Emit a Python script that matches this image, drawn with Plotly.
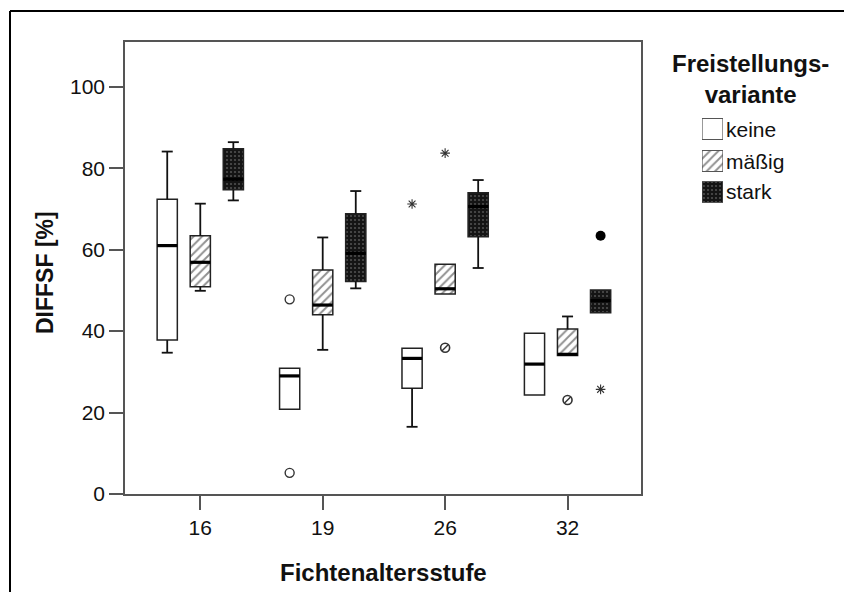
import plotly.graph_objects as go

# ---- data -------------------------------------------------------------
ages = ["16", "19", "26", "32"]
variants = ["keine", "mäßig", "stark"]

keine_lo = [34.7, 20.8, 16.5, 24.3]
keine_q1 = [37.8, 20.8, 26.0, 24.3]
keine_med = [61.0, 29.0, 33.3, 31.9]
keine_q3 = [72.4, 30.9, 35.8, 39.5]
keine_hi = [84.1, 30.9, 35.8, 39.5]

maessig_lo = [49.9, 35.4, 49.1, 34.0]
maessig_q1 = [50.9, 44.0, 49.1, 34.0]
maessig_med = [56.9, 46.4, 50.4, 34.3]
maessig_q3 = [63.4, 55.0, 56.4, 40.5]
maessig_hi = [71.3, 63.0, 56.4, 43.6]

stark_lo = [72.1, 50.5, 55.5, 44.5]
stark_q1 = [74.7, 52.2, 63.2, 44.5]
stark_med = [77.3, 59.1, 70.6, 47.5]
stark_q3 = [84.8, 68.8, 74.0, 50.1]
stark_hi = [86.4, 74.4, 77.1, 50.1]

# outliers (o) and extreme values (*)
keine_circle_age = ["19", "19"]
keine_circle_val = [47.8, 5.2]
keine_star_age = ["26"]
keine_star_val = [71.2]
maessig_circle_age = ["26", "32"]
maessig_circle_val = [35.9, 23.1]
maessig_star_age = ["26"]
maessig_star_val = [83.7]
stark_circle_age = ["32"]
stark_circle_val = [63.4]
stark_star_age = ["32"]
stark_star_val = [25.7]

# ---- layout constants -------------------------------------------------
W, H = 844, 592
ML, MR, MT, MB = 125, 0, 42, 98
PLOT_W = 516                       # width of the main axes in px
PW = W - ML - MR                   # width of the drawing area
PH = H - MT - MB                   # height of the drawing area
FONT = "Arial, Liberation Sans, sans-serif"
INK = "#111111"
FRAME = "#555555"

OFFSET = {"keine": -0.27, "mäßig": 0.0, "stark": 0.27}
BOX_W = 0.165
CAP = 0.045

PATTERNS = {
    "keine": dict(color="white", pattern=dict(shape="")),
    "mäßig": dict(color="white",
                  pattern=dict(shape="/", fgcolor="#222222", bgcolor="white",
                               size=6, solidity=0.32)),
    "stark": dict(color="#111111",
                  pattern=dict(shape=".", fgcolor="#8a8a8a", bgcolor="#141414",
                               size=4, solidity=0.22)),
}

stats = {
    "keine": (keine_lo, keine_q1, keine_med, keine_q3, keine_hi),
    "mäßig": (maessig_lo, maessig_q1, maessig_med, maessig_q3, maessig_hi),
    "stark": (stark_lo, stark_q1, stark_med, stark_q3, stark_hi),
}


def xpos(age, variant):
    return ages.index(age) + OFFSET[variant]


fig = go.Figure()

# boxes (interquartile range) as patterned bars
for v in variants:
    lo, q1, med, q3, hi = stats[v]
    pat = PATTERNS[v]
    fig.add_trace(go.Bar(
        x=[xpos(a, v) for a in ages],
        base=q1,
        y=[b - a for a, b in zip(q1, q3)],
        width=BOX_W,
        marker=dict(color=pat["color"], pattern=pat["pattern"],
                    line=dict(color="#222222", width=1.5)),
        showlegend=False, hoverinfo="skip",
    ))

# whiskers, caps and medians
for v in variants:
    lo, q1, med, q3, hi = stats[v]
    wx, wy, mx, my = [], [], [], []
    for i, a in enumerate(ages):
        c = xpos(a, v)
        if hi[i] > q3[i]:
            wx += [c, c, None, c - CAP, c + CAP, None]
            wy += [q3[i], hi[i], None, hi[i], hi[i], None]
        if lo[i] < q1[i]:
            wx += [c, c, None, c - CAP, c + CAP, None]
            wy += [q1[i], lo[i], None, lo[i], lo[i], None]
        mx += [c - BOX_W / 2, c + BOX_W / 2, None]
        my += [med[i], med[i], None]
    fig.add_trace(go.Scatter(x=wx, y=wy, mode="lines",
                             line=dict(color=INK, width=1.8),
                             showlegend=False, hoverinfo="skip"))
    fig.add_trace(go.Scatter(x=mx, y=my, mode="lines",
                             line=dict(color="black", width=3.2),
                             showlegend=False, hoverinfo="skip"))


# outliers
def add_points(age_list, vals, variant, symbol, size, lw, color="#333333"):
    fig.add_trace(go.Scatter(
        x=[xpos(a, variant) for a in age_list], y=vals, mode="markers",
        marker=dict(symbol=symbol, size=size, color=color,
                    line=dict(color=color, width=lw)),
        showlegend=False, hoverinfo="skip"))


add_points(keine_circle_age, keine_circle_val, "keine", "circle-open", 9, 1.4)
add_points(keine_star_age, keine_star_val, "keine", "asterisk-open", 8, 1.1)
add_points(maessig_circle_age, maessig_circle_val, "mäßig", "circle-open", 9, 1.6)
add_points(maessig_circle_age, maessig_circle_val, "mäßig", "line-ne-open", 6, 1.4)
add_points(maessig_star_age, maessig_star_val, "mäßig", "asterisk-open", 8, 1.1)
add_points(stark_circle_age, stark_circle_val, "stark", "circle", 10, 0, "black")
add_points(stark_star_age, stark_star_val, "stark", "asterisk-open", 8, 1.1)

# legend swatches drawn on a small inset axis
LEG_X0, LEG_X1 = 702, 723          # px
LEG_TOP, LEG_BOT = 108, 204        # px
leg_centers = {"keine": 129, "mäßig": 161, "stark": 192}
SW = 21
for v in variants:
    pat = PATTERNS[v]
    fig.add_trace(go.Bar(
        x=[0], y=[SW], base=[LEG_BOT - leg_centers[v] - SW / 2], width=1,
        xaxis="x2", yaxis="y2",
        marker=dict(color=pat["color"], pattern=pat["pattern"],
                    line=dict(color="#555555", width=1.2)),
        showlegend=False, hoverinfo="skip",
    ))

annotations = []
for v in variants:
    annotations.append(dict(
        text=v, x=(LEG_X1 + 1 - ML) / PW, xref="paper", xanchor="left",
        y=(H - MB - leg_centers[v]) / PH, yref="paper", yanchor="middle",
        showarrow=False, font=dict(family=FONT, size=21, color=INK)))

annotations.append(dict(
    text="<b>Freistellungs-<br>variante</b>", x=(750 - ML) / PW, xref="paper",
    xanchor="center", y=(H - MB - 48) / PH, yref="paper", yanchor="top",
    align="center", showarrow=False,
    font=dict(family=FONT, size=24, color=INK)))

annotations.append(dict(
    text="<b>DIFFSF [%]</b>", textangle=-90, x=(45 - ML) / PW, xref="paper",
    xanchor="center", y=(H - MB - 273) / PH, yref="paper", yanchor="middle",
    showarrow=False, font=dict(family=FONT, size=23, color=INK)))

annotations.append(dict(
    text="<b>Fichtenaltersstufe</b>", x=(383 - ML) / PW, xref="paper",
    xanchor="center", y=(H - MB - 572) / PH, yref="paper", yanchor="middle",
    showarrow=False, font=dict(family=FONT, size=24, color=INK)))

# outer frame: left and top edges
fx = (10 - ML) / PW
fy = (H - MB - 11) / PH
shapes = [
    dict(type="line", xref="paper", yref="paper", x0=fx, x1=fx,
         y0=-MB / PH, y1=fy, line=dict(color="black", width=2)),
    dict(type="line", xref="paper", yref="paper", x0=fx, x1=1.0,
         y0=fy, y1=fy, line=dict(color="black", width=2)),
]

main_dom = PLOT_W / PW
axis_style = dict(showline=True, linecolor=FRAME, linewidth=1.5, mirror=True,
                  ticks="outside", ticklen=14, tickwidth=1.5, tickcolor=FRAME,
                  showgrid=False, zeroline=False,
                  tickfont=dict(family=FONT, size=21, color=INK))

fig.update_layout(
    width=W, height=H,
    margin=dict(l=ML, r=MR, t=MT, b=MB),
    paper_bgcolor="white", plot_bgcolor="white",
    barmode="overlay", showlegend=False,
    xaxis=dict(domain=[0, main_dom], range=[-0.615, 3.6],
               tickvals=list(range(len(ages))), ticktext=ages, **axis_style),
    yaxis=dict(range=[0, 111], tickvals=[0, 20, 40, 60, 80, 100], **axis_style),
    xaxis2=dict(domain=[(LEG_X0 - ML) / PW, (LEG_X1 - ML) / PW],
                range=[-0.5, 0.5], visible=False, fixedrange=True),
    yaxis2=dict(domain=[(H - MB - LEG_BOT) / PH, (H - MB - LEG_TOP) / PH],
                range=[0, LEG_BOT - LEG_TOP], visible=False, fixedrange=True,
                anchor="x2"),
    annotations=annotations,
    shapes=shapes,
)

fig.write_html("out.html", config={"displayModeBar": False})
